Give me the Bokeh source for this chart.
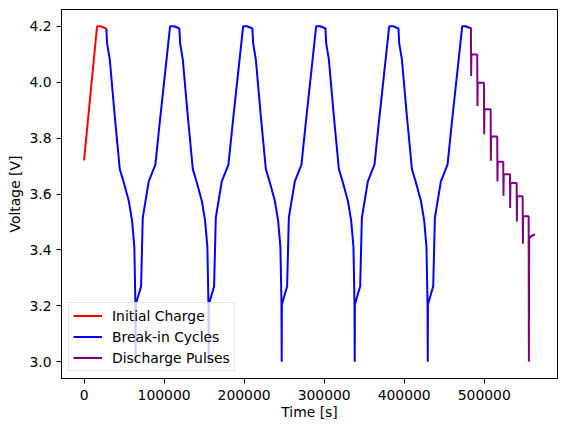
from bokeh.plotting import figure
from bokeh.models import FixedTicker, Legend, LegendItem, Range1d
from bokeh.embed import file_html
from bokeh.resources import INLINE

# ---- data ----
charge_t = [0, 16250, 20500, 27850]
charge_v = [3.720, 4.200, 4.200, 4.192]

breakin_t = [
    27850, 28750, 32150, 38350, 44650, 49550, 55850, 60000, 62850, 64150, 64450, 64650,
    71250, 73350, 80850, 89150, 94350, 103000,
    107500, 112500, 119100, 120000, 123400, 129600, 135900, 140800, 147100, 151250, 154100,
    155400, 155700, 155900, 162500, 164600, 172100, 180400, 185600, 194250,
    198750, 203750, 210350, 211250, 214650, 220850, 227150, 232050, 238350, 242500, 245350,
    246650, 246950, 247150, 253750, 255850, 263350, 271650, 276850, 285500,
    290000, 295000, 301600, 302500, 305900, 312100, 318400, 323300, 329600, 333750, 336600,
    337900, 338200, 338400, 345000, 347100, 354600, 362900, 368100, 376750,
    381250, 386250, 392850, 393750, 397150, 403350, 409650, 414550, 420850, 425000, 427850,
    429150, 429450, 429650, 436250, 438350, 445850, 454150, 459350, 468000,
    472500, 476700, 482100,
]
breakin_v = [
    4.192, 4.140, 4.081, 3.879, 3.689, 3.642, 3.576, 3.505, 3.410, 3.210, 3.000, 3.205,
    3.270, 3.515, 3.645, 3.705, 3.850, 4.080,
    4.200, 4.200, 4.192, 4.140, 4.081, 3.879, 3.689, 3.642, 3.576, 3.505, 3.410,
    3.210, 3.000, 3.205, 3.270, 3.515, 3.645, 3.705, 3.850, 4.080,
    4.200, 4.200, 4.192, 4.140, 4.081, 3.879, 3.689, 3.642, 3.576, 3.505, 3.410,
    3.210, 3.000, 3.205, 3.270, 3.515, 3.645, 3.705, 3.850, 4.080,
    4.200, 4.200, 4.192, 4.140, 4.081, 3.879, 3.689, 3.642, 3.576, 3.505, 3.410,
    3.210, 3.000, 3.205, 3.270, 3.515, 3.645, 3.705, 3.850, 4.080,
    4.200, 4.200, 4.192, 4.140, 4.081, 3.879, 3.689, 3.642, 3.576, 3.505, 3.410,
    3.210, 3.000, 3.205, 3.270, 3.515, 3.645, 3.705, 3.850, 4.080,
    4.200, 4.200, 4.194,
]

pulse_t = [
    482100,
    483375, 483675, 483975, 491250,
    491550, 491850, 499625,
    499925, 500225, 508000,
    508300, 508600, 516250,
    516550, 516850, 523750,
    524050, 524350, 532125,
    532425, 532725, 540500,
    540800, 541100, 548000,
    548300, 548600, 555500,
    555800, 556100, 558000, 563375,
]
pulse_v = [
    4.194,
    4.194, 4.022, 4.099, 4.099,
    3.915, 3.998, 3.998,
    3.814, 3.903, 3.903,
    3.719, 3.806, 3.806,
    3.645, 3.715, 3.715,
    3.594, 3.671, 3.671,
    3.550, 3.639, 3.639,
    3.502, 3.592, 3.592,
    3.422, 3.520, 3.520,
    3.000, 3.440, 3.448, 3.456,
]

xticks = [0, 100000, 200000, 300000, 400000, 500000]
xtick_labels = ["0", "100000", "200000", "300000", "400000", "500000"]
yticks = [3.0, 3.2, 3.4, 3.6, 3.8, 4.0, 4.2]
ytick_labels = ["3.0", "3.2", "3.4", "3.6", "3.8", "4.0", "4.2"]

series_names = ["Initial Charge", "Break-in Cycles", "Discharge Pulses"]
series_colors = ["red", "blue", "purple"]

FONT = "DejaVu Sans"
FS = "13.9px"

p = figure(
    frame_width=496, frame_height=369,
    x_range=Range1d(-28169, 591544), y_range=Range1d(2.94, 4.26),
    output_backend="svg", toolbar_location=None,
    min_border_left=61, min_border_right=2, min_border_top=9, min_border_bottom=40,
    background_fill_color="white", border_fill_color="white",
)
p.xgrid.visible = False
p.ygrid.visible = False
p.outline_line_color = "black"
p.outline_line_width = 1
p.outline_line_alpha = 1

r1 = p.line(charge_t, charge_v, line_color=series_colors[0], line_width=2)
r2 = p.line(breakin_t, breakin_v, line_color=series_colors[1], line_width=2)
r3 = p.line(pulse_t, pulse_v, line_color=series_colors[2], line_width=2)

for ax in (p.xaxis[0], p.yaxis[0]):
    ax.axis_line_color = "black"
    ax.major_tick_line_color = "black"
    ax.major_tick_out = 5
    ax.major_tick_in = 0
    ax.minor_tick_out = 0
    ax.minor_tick_in = 0
    ax.major_label_text_font = FONT
    ax.major_label_text_font_size = FS
    ax.major_label_text_color = "black"
    ax.axis_label_text_font = FONT
    ax.axis_label_text_font_size = FS
    ax.axis_label_text_font_style = "normal"
    ax.axis_label_text_color = "black"

p.xaxis.ticker = FixedTicker(ticks=xticks)
p.xaxis.major_label_overrides = {t: l for t, l in zip(xticks, xtick_labels)}
p.yaxis.ticker = FixedTicker(ticks=yticks)
p.yaxis.major_label_overrides = {t: l for t, l in zip(yticks, ytick_labels)}
p.xaxis.axis_label = "Time [s]"
p.yaxis.axis_label = "Voltage [V]"
p.xaxis.major_label_standoff = 6
p.yaxis.major_label_standoff = 5
p.xaxis.axis_label_standoff = 1
p.yaxis.axis_label_standoff = 3

legend = Legend(
    items=[LegendItem(label=n, renderers=[r]) for n, r in zip(series_names, [r1, r2, r3])],
    location="bottom_left",
)
legend.margin = 7
legend.padding = 4
legend.spacing = 4
legend.label_height = 17
legend.glyph_height = 17
legend.glyph_width = 29
legend.label_standoff = 10
legend.label_text_font = FONT
legend.label_text_font_size = FS
legend.label_text_color = "black"
legend.border_line_color = "#cccccc"
legend.border_line_width = 1
legend.background_fill_color = "white"
legend.background_fill_alpha = 0.8
p.add_layout(legend)

open("out.html", "w").write(file_html(p, INLINE))
